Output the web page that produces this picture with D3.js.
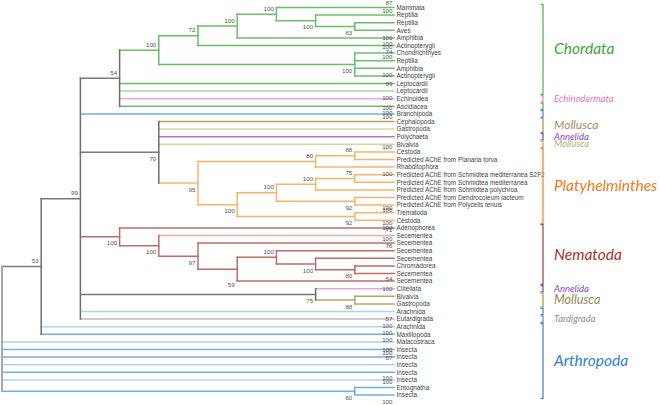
<!DOCTYPE html>
<html><head><meta charset="utf-8">
<script src="https://cdn.jsdelivr.net/npm/d3@7"></script>
<style>body{margin:0;background:#fff}svg{display:block}</style>
</head><body><svg id="c" width="660" height="405"></svg>
<script>
// ---------- DATA ----------
const leafNames = ["Mammala","Reptilia","Reptilia","Aves","Amphibia","Actinopterygii","Chondrichthyes","Reptilia","Amphibia","Actinopterygii",
"Leptocardii","Leptocardii","Echinoidea","Ascidiacea","Branchipoda","Cephalopoda","Gastropoda","Polychaeta","Bivalvia","Cestoda",
"Predicted AChE from Planaria torva","Rhabditophora","Predicted AChE from Schmidtea mediterranea S2F2","Predicted AChE from Schmidtea mediterranea",
"Predicted AChE from Schmidtea polychroa","Predicted AChE from Dendrocoleum lacteum","Predicted AChE from Polycelis tenuis","Trematoda","Cestoda",
"Adenophorea","Secementea","Secementea","Secementea","Secementea","Chromadorea","Secementea","Secementea","Clitellata","Bivalvia","Gastropoda",
"Arachnida","Eutardigrada","Arachnida","Maxillopoda","Malacostraca","Insecta","Insecta","Insecta","Insecta","Insecta","Entognatha","Insecta"];
const leafGroups = ["ch","ch","ch","ch","ch","ch","ch","ch","ch","ch",
"ch","chl","ec","ch","br","mo","mol","an","mol","pl",
"pl","pl","pl","pl","pl","pl","pl","pl","pl",
"ne","nel","ne","ne","ne","ne","ne","ne","anl","mo","mo",
"arl","ta","arl","ar","arl","ar","ar","arl","ar","arl","ar","ar"];
// tree (Newick; leaves = indices, internal label = bootstrap + label side, length = rank step)
const nwChordata = "(((((0,(1,(2,3)63b:1)100b:1)100a:1,4)100a:1,5)72a:1,(6,7,8,9)100b:5)100a:1,10,11,12,13)54a:1";
const nwPlaty = "(15,16,17,18,(((19,20)88a:1,21)80a:3,((((22,23)75a:1,24)100a:1,(25,26)92b:2)100a:1,(27,28)92b:3)100b:1)95b:1)70b:2";
const nwNema = "(29,(30,(31,((32,(33,(34,35)80b:1)100b:1)100a:1,36)59e:1)97b:1)100b:1)100b:1";
const nwGray = "(37,(38,39)88b:1)75b:6";
const newick = "(((" + nwChordata + ",14," + nwPlaty + "," + nwNema + "," + nwGray + ",40,41)99a:1,42,43)53a:1,44,45,46,47,48,49,(50,51)60b:9);";
// bootstrap values printed at the tips, with their slot in leaf-row units
const tipValues = [87,100,100,100,100,74,100,100,99,100,100,100,100,100,100,100,100,100,100,71,100,76,54,100,57,100,100,100,100,100,57,100,100,100];
const tipSlots  = [-0.65,0.4,3.95,4.82,5.14,5.84,6.46,8.87,10.05,11.94,13.26,13.83,14.36,18.31,21.82,26.3,26.65,28.27,28.93,29.29,30.38,31.36,35.74,36.97,40.92,41.9,42.82,43.78,45.1,45.4,46.06,48.7,49.28,51.9];
// clade brackets
const cladeNames = ["Chordata","Echinodermata","","","Mollusca","Annelida","Mollusca","Platyhelminthes","Nematoda","Annelida","Mollusca","","Tardigrada","Arthropoda"];
const cladeFirst = [0,12,13,14,15,17,18,19,29,37,38,40,41,42];
const cladeLast  = [11,12,13,14,16,17,18,28,36,37,39,40,41,51];
const cladeKeys  = ["chordata","echino","chordata","branchi","mollusca","annelida","molluscaS","platy","nema","annelida","mollusca2","branchi","tardi","arthro"];

// ---------- STYLE ----------
const groupColor = {ch:"#6cbf6a",chl:"#a6d9a0",ec:"#f7a6d8",br:"#6fb3e0",mo:"#b3aa5a",mol:"#d8d4a6",an:"#b27bc4",anl:"#dca9de",
  pl:"#fbb36c",ne:"#c26b6b",nel:"#e0afaf",ta:"#b8b8b8",ar:"#6cb2e2",arl:"#abd5ef",bb:"#7a7a7a"};
const famOf = {chl:"ch",nel:"ne",mol:"mo",arl:"ar",anl:"an"};
const cladeStyle = {
  chordata:{line:"#5cb455",text:"#3aaa35",size:15.5},
  echino:{line:"#ea86cf",text:"#ee6ecf",size:9.5},
  branchi:{line:"#4f8fd2",text:"#4f8fd2",size:9.5},
  mollusca:{line:"#a69c5e",text:"#9a9060",size:12},
  annelida:{line:"#8a4fc0",text:"#8c45c8",size:9.5},
  molluscaS:{line:"#b8ae78",text:"#b8ae78",size:9.5},
  platy:{line:"#f08a3c",text:"#ee7d22",size:15.5},
  nema:{line:"#a8504b",text:"#a8322d",size:15.5},
  mollusca2:{line:"#a69c5e",text:"#958c55",size:12.5},
  tardi:{line:"#6a8fc8",text:"#8e8e8e",size:9.5},
  arthro:{line:"#4a86cc",text:"#2f80d0",size:15.5}
};

// ---------- PARSE ----------
function parseNewick(s){
  let i=0;
  function node(){
    const n={};
    if(s[i]==='('){
      i++; n.children=[];
      while(true){ n.children.push(node()); if(s[i]===','){i++;continue;} break; }
      i++;
    }
    let lab=''; while(i<s.length && !',():;'.includes(s[i])) lab+=s[i++];
    n.label=lab;
    if(s[i]===':'){ i++; let l=''; while(i<s.length && !',();'.includes(s[i])) l+=s[i++]; n.len=+l; }
    return n;
  }
  return node();
}

const svg = d3.select("#c");
const xScale = d3.scaleLinear().domain([0,10]).range([2,394]);
const yScale = d3.scaleLinear().domain([0,leafNames.length-1]).range([7.5,395.1]);

const root = d3.hierarchy(parseNewick(newick));
root.eachBefore(d=>{ d.rank = d.parent ? d.parent.rank + (d.data.len||0) : 0; });
root.eachAfter(d=>{
  if(!d.children){
    d.idx=+d.data.label; d.rank=10; d.py=yScale(d.idx);
    const g=leafGroups[d.idx]; d.col=groupColor[g]; d.fam=famOf[g]||g;
  } else {
    d.py=(d.children[0].py + d.children[d.children.length-1].py)/2;
    const fams=new Set(d.children.map(c=>c.fam));
    d.fam = fams.size===1 ? [...fams][0] : "bb";
    d.col = groupColor[d.fam];
  }
  d.px = xScale(d.rank);
});

const gT = svg.append("g").attr("fill","none").attr("stroke-linecap","square");
// horizontal branches
root.descendants().filter(d=>d.parent).forEach(d=>{
  gT.append("line").attr("x1",d.parent.px).attr("x2",d.px).attr("y1",d.py).attr("y2",d.py)
    .attr("stroke",d.col).attr("stroke-width",1.5);
});
// vertical connectors
root.descendants().filter(d=>d.children).forEach(d=>{
  gT.append("line").attr("x1",d.px).attr("x2",d.px)
    .attr("y1",d.children[0].py).attr("y2",d.children[d.children.length-1].py)
    .attr("stroke", d===root ? "#a8a8a8" : (d.fam==="bb" ? "#6e6e6e" : d.col))
    .attr("stroke-width", d===root ? 2 : 1.5);
});

// internal support labels
const gS = svg.append("g").attr("font-family","Liberation Sans, Arial, sans-serif").attr("font-size",6.2).attr("fill","#555").attr("text-anchor","end");
root.descendants().filter(d=>d.children && d.data.label).forEach(d=>{
  const m=d.data.label.match(/^(\d+)([abe])$/);
  const side=m[2];
  let y = side==='a' ? d.py-3.4 : side==='b' ? d.py+8.6 : d.children[d.children.length-1].py+6.2;
  gS.append("text").attr("x",d.px-2.5).attr("y",y).text(m[1]);
});
// tip support labels
tipValues.forEach((v,k)=>{
  gS.append("text").attr("x",xScale(10)-1.5).attr("y",yScale(tipSlots[k])).attr("dy","0.35em").text(v);
});

// leaf labels
svg.append("g").attr("font-family","Liberation Sans, Arial, sans-serif").attr("font-size",6.4).attr("fill","#444")
  .selectAll("text").data(leafNames).join("text")
  .attr("x",xScale(10)+2.5).attr("y",(d,i)=>yScale(i)).attr("dy","0.35em").text(d=>d);

// clade brackets
const bx=543, gB=svg.append("g");
cladeNames.forEach((name,k)=>{
  const st=cladeStyle[cladeKeys[k]];
  const y1=yScale(cladeFirst[k])-3.2, y2=yScale(cladeLast[k])+3.2;
  gB.append("path").attr("d",`M${bx-2.5},${y1}H${bx}V${y2}H${bx-2.5}`)
    .attr("fill","none").attr("stroke",st.line).attr("stroke-width",1.3);
  if(name){
    gB.append("text").attr("x",554).attr("y",(y1+y2)/2).attr("dy","0.33em")
      .attr("font-family","Lato, 'Open Sans', sans-serif").attr("font-style","italic")
      .attr("font-size",st.size).attr("fill",st.text).text(name);
  }
});
</script></body></html>
